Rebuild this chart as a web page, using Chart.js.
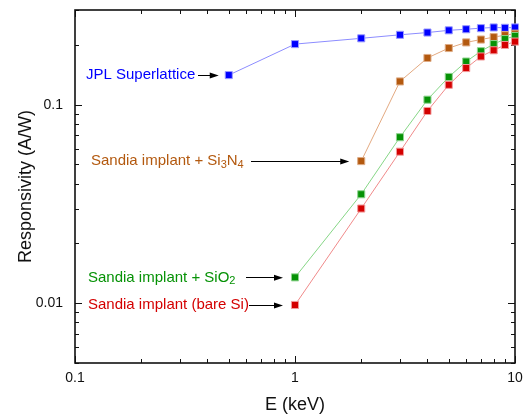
<!DOCTYPE html>
<html><head><meta charset="utf-8">
<script src="https://cdn.jsdelivr.net/npm/chart.js@4"></script>
<style>html,body{margin:0;padding:0;background:#fff;}#wrap{width:527px;height:414px;position:relative;}</style>
</head><body><div id="wrap"><canvas id="c"></canvas></div>
<script>
// ---- data ----
const energyJPL = [0.5, 1, 2, 3, 4, 5, 6, 7, 8, 9, 10];
const respJPL = [0.141, 0.202, 0.216, 0.225, 0.231, 0.237, 0.240, 0.243, 0.245, 0.244, 0.245];
const energySi3N4 = [2, 3, 4, 5, 6, 7, 8, 9, 10];
const respSi3N4 = [0.052, 0.131, 0.172, 0.193, 0.206, 0.213, 0.219, 0.224, 0.228];
const energySandia = [1, 2, 3, 4, 5, 6, 7, 8, 9, 10];
const respSiO2 = [0.0135, 0.0354, 0.0686, 0.106, 0.138, 0.165, 0.186, 0.202, 0.214, 0.222];
const respBareSi = [0.0098, 0.030, 0.058, 0.093, 0.126, 0.153, 0.175, 0.188, 0.200, 0.208];

const xTickValues = [0.1,0.2,0.3,0.4,0.5,0.6,0.7,0.8,0.9,1,2,3,4,5,6,7,8,9,10];
const xMajorValues = [0.1, 1, 10];
const xMajorLabels = ['0.1', '1', '10'];
const yTickValues = [0.005,0.006,0.007,0.008,0.009,0.01,0.02,0.03,0.04,0.05,0.06,0.07,0.08,0.09,0.1,0.2,0.3];
const yMajorValues = [0.01, 0.1];
const yMajorLabels = ['0.01', '0.1'];

const seriesNames = ['Sandia implant (bare Si)', 'Sandia implant + SiO2', 'Sandia implant + Si3N4', 'JPL Superlattice'];

// ---- styling ----
const FONT = '"Liberation Sans", Arial, sans-serif';
function pts(xs, ys) { return xs.map((x, i) => ({x: x, y: ys[i]})); }
function ds(label, data, fill, edge, line) {
  return {label, data, borderColor: line, borderWidth: 1, backgroundColor: fill,
    pointStyle: 'rect', pointRadius: 5, pointBorderWidth: 1, pointBackgroundColor: fill,
    pointBorderColor: edge, showLine: true, tension: 0, clip: false, fill: false};
}
const datasets = [
  ds(seriesNames[0], pts(energySandia, respBareSi), '#d40000', '#f29a9a', '#f08a8a'),
  ds(seriesNames[1], pts(energySandia, respSiO2), '#069206', '#8fd48f', '#86d686'),
  ds(seriesNames[2], pts(energySi3N4, respSi3N4), '#b3590f', '#deac86', '#e3a980'),
  ds(seriesNames[3], pts(energyJPL, respJPL), '#0000ff', '#9a9aff', '#8c8cff')
];

const annotations = [
  {ds: 3, idx: 0, color: '#0000ff', textX: 11, arrowX: 123, parts: [['JPL Superlattice', 0]]},
  {ds: 2, idx: 0, color: '#b3590f', textX: 16, arrowX: 176, parts: [['Sandia implant + Si', 0], ['3', 1], ['N', 0], ['4', 1]]},
  {ds: 1, idx: 0, color: '#069206', textX: 13, arrowX: 171, parts: [['Sandia implant + SiO', 0], ['2', 1]]},
  {ds: 0, idx: 0, color: '#d40000', textX: 13, arrowX: 174, parts: [['Sandia implant (bare Si)', 0]]}
];

function near(a, b) { return Math.abs(a - b) < 1e-9 * Math.max(1, Math.abs(b)); }
function isMajor(v, list) { return list.some(m => near(v, m)); }

const framePlugin = {
  id: 'frame',
  beforeDatasetsDraw(chart) {
    const {ctx, chartArea: a, scales: {x, y}} = chart;
    ctx.save();
    ctx.strokeStyle = '#111';
    ctx.lineWidth = 1;
    ctx.beginPath();
    xTickValues.forEach(v => {
      const px = Math.round(x.getPixelForValue(v)) + 0.5;
      const L = isMajor(v, xMajorValues) ? 7 : 4;
      ctx.moveTo(px, a.bottom); ctx.lineTo(px, a.bottom - L);
      ctx.moveTo(px, a.top); ctx.lineTo(px, a.top + L);
    });
    yTickValues.forEach(v => {
      const py = Math.round(y.getPixelForValue(v)) + 0.5;
      const L = isMajor(v, yMajorValues) ? 7 : 4;
      ctx.moveTo(a.left, py); ctx.lineTo(a.left + L, py);
      ctx.moveTo(a.right, py); ctx.lineTo(a.right - L, py);
    });
    ctx.stroke();
    ctx.lineWidth = 1.6;
    ctx.strokeStyle = '#111';
    ctx.strokeRect(a.left, a.top, a.right - a.left, a.bottom - a.top);
    ctx.restore();
  },
  afterDraw(chart) {
    const {ctx, chartArea: a} = chart;
    ctx.save();
    annotations.forEach(an => {
      const el = chart.getDatasetMeta(an.ds).data[an.idx];
      const py = el.y, px = el.x;
      let tx = a.left + an.textX;
      ctx.fillStyle = an.color;
      ctx.textBaseline = 'middle';
      ctx.textAlign = 'left';
      an.parts.forEach(([t, sub]) => {
        ctx.font = (sub ? '11px ' : '15px ') + FONT;
        ctx.fillText(t, tx, py + (sub ? 4 : 0));
        tx += ctx.measureText(t).width;
      });
      const x0 = a.left + an.arrowX;
      const tip = px - (an.ds === 3 ? 10 : 12);
      ctx.strokeStyle = '#000';
      ctx.fillStyle = '#000';
      ctx.lineWidth = 1;
      ctx.beginPath();
      ctx.moveTo(x0, Math.round(py) + 0.5);
      ctx.lineTo(tip - 6, Math.round(py) + 0.5);
      ctx.stroke();
      ctx.beginPath();
      ctx.moveTo(tip, py + 0.5);
      ctx.lineTo(tip - 9, py + 0.5 - 3);
      ctx.lineTo(tip - 9, py + 0.5 + 3);
      ctx.closePath();
      ctx.fill();
    });
    ctx.restore();
  }
};

new Chart(document.getElementById('c'), {
  type: 'line',
  data: {datasets},
  options: {
    responsive: true,
    maintainAspectRatio: false,
    animation: false,
    events: [],
    layout: {padding: {top: 10, right: 12, left: 0, bottom: 0}},
    plugins: {legend: {display: false}, tooltip: {enabled: false}},
    scales: {
      x: {
        type: 'logarithmic', min: 0.1, max: 10,
        grid: {display: false, drawTicks: false},
        border: {display: false},
        afterBuildTicks(s) { s.ticks = xTickValues.map(v => ({value: v, major: isMajor(v, xMajorValues)})); },
        afterFit(s) { s.height = 51; s.paddingLeft = 0; s.paddingRight = 0; },
        ticks: {
          autoSkip: false, maxRotation: 0, padding: 7, color: '#111',
          font: {family: FONT, size: 14},
          callback(v) { const i = xMajorValues.findIndex(m => near(v, m)); return i >= 0 ? xMajorLabels[i] : ''; }
        },
        title: {display: true, text: 'E (keV)', color: '#111', font: {family: FONT, size: 18, lineHeight: 1}, padding: {top: 0, bottom: 0}}
      },
      y: {
        type: 'logarithmic', min: 0.005, max: 0.3,
        grid: {display: false, drawTicks: false},
        border: {display: false},
        afterBuildTicks(s) { s.ticks = yTickValues.map(v => ({value: v, major: isMajor(v, yMajorValues)})); },
        afterFit(s) { s.width = 75; s.paddingTop = 0; s.paddingBottom = 0; },
        ticks: {
          autoSkip: false, padding: 12, color: '#111',
          font: {family: FONT, size: 14},
          callback(v) { const i = yMajorValues.findIndex(m => near(v, m)); return i >= 0 ? yMajorLabels[i] : ''; }
        },
        title: {display: true, text: 'Responsivity (A/W)', color: '#111', font: {family: FONT, size: 18, lineHeight: 1}, padding: {top: 17, bottom: 0}}
      }
    }
  },
  plugins: [framePlugin]
});
</script></body></html>
